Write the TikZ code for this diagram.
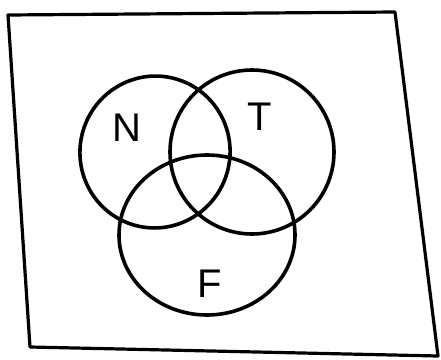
\documentclass[tikz,border=0pt]{standalone}
\usepackage{fontspec}
\setmainfont{Liberation Sans}
\usetikzlibrary{shapes.geometric}
\begin{document}
\begin{tikzpicture}[x=1pt,y=-1pt,
  ink/.style={line width=3.6pt,line join=round,line cap=round},
  lbl/.style={font=\fontsize{40}{40}\selectfont,inner sep=0pt}]
\useasboundingbox (0,0) rectangle (441,359);
% frame
\coordinate (tl) at (8,15);
\coordinate (tr) at (395,12);
\coordinate (br) at (438,356);
\coordinate (bl) at (30,347);
\draw[ink,line width=3.2pt] (tl) -- (tr) -- (br) -- (bl) -- (tl) -- cycle;
% circles
\node[ink,draw,ellipse,minimum width=150pt,minimum height=152pt,inner sep=0pt,rotate=-15] (N) at (155,152) {};
\node[ink,draw,ellipse,minimum width=164pt,minimum height=164pt,inner sep=0pt] (T) at (252,152) {};
\node[ink,draw,ellipse,minimum width=176pt,minimum height=160pt,inner sep=0pt] (F) at (207,235) {};
% labels
\node[lbl] (nl) at (127,128) {N};
\node[lbl] (tl2) at (260,117) {T};
\node[lbl] (fl) at (210,284) {F};
\end{tikzpicture}
\end{document}
